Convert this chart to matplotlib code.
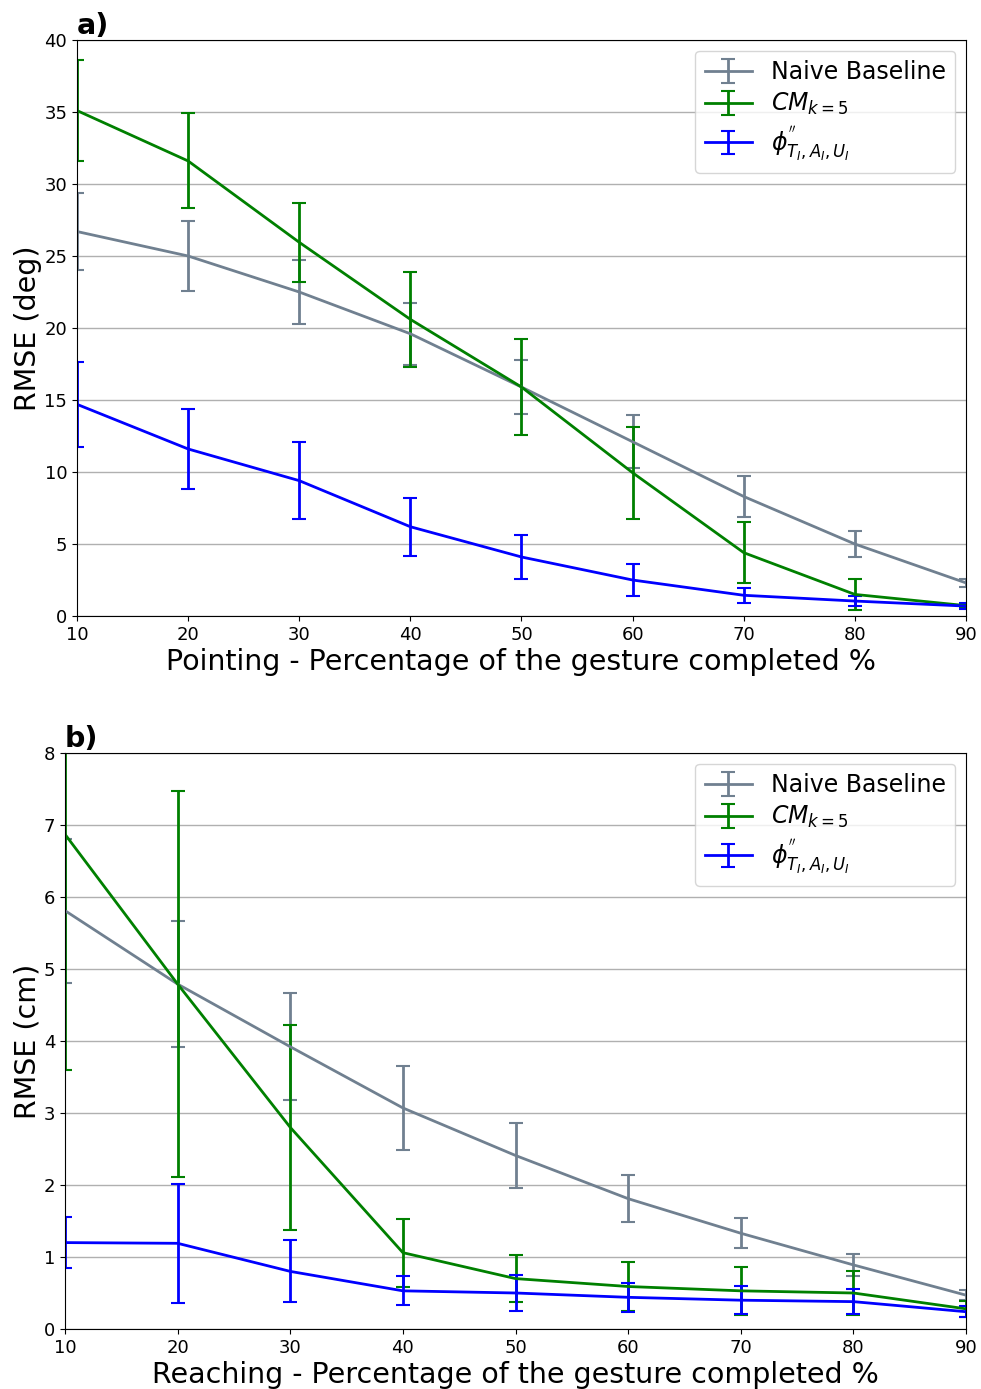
import numpy as np
import matplotlib
matplotlib.use("Agg")
import matplotlib.pyplot as plt

pct = [10, 20, 30, 40, 50, 60, 70, 80, 90]

# pointing (deg)
point_naive = [26.7, 25.0, 22.5, 19.6, 15.9, 12.1, 8.3, 5.0, 2.3]
point_naive_err = [2.7, 2.45, 2.25, 2.15, 1.9, 1.85, 1.45, 0.87, 0.26]
point_cm = [35.1, 31.6, 25.95, 20.6, 15.9, 9.95, 4.4, 1.5, 0.72]
point_cm_err = [3.5, 3.3, 2.75, 3.3, 3.35, 3.2, 2.1, 1.08, 0.1]
point_phi = [14.7, 11.6, 9.4, 6.2, 4.1, 2.5, 1.44, 1.04, 0.69]
point_phi_err = [2.95, 2.8, 2.65, 2.0, 1.55, 1.08, 0.54, 0.33, 0.2]

# reaching (cm)
reach_naive = [5.81, 4.79, 3.92, 3.07, 2.41, 1.81, 1.33, 0.89, 0.47]
reach_naive_err = [1.0, 0.875, 0.74, 0.58, 0.45, 0.33, 0.21, 0.15, 0.07]
reach_cm = [6.87, 4.79, 2.8, 1.06, 0.70, 0.59, 0.53, 0.50, 0.28]
reach_cm_err = [3.27, 2.68, 1.42, 0.47, 0.33, 0.345, 0.33, 0.3, 0.11]
reach_phi = [1.2, 1.19, 0.80, 0.53, 0.50, 0.44, 0.40, 0.38, 0.24]
reach_phi_err = [0.35, 0.83, 0.43, 0.2, 0.245, 0.205, 0.195, 0.17, 0.08]

labels = ["Naive Baseline", r"$CM_{k=5}$", r"$\phi^{''}_{T_I,A_I,U_I}$"]
colors = ["slategray", "green", "blue"]

fig = plt.figure(figsize=(9.81, 13.89), dpi=100)
ax1 = fig.add_axes([0.0785, 0.5565, 0.9062, 0.4147])
ax2 = fig.add_axes([0.0663, 0.0432, 0.9184, 0.4147])


def draw(ax, series, ylim, xlabel, ylabel, tag):
    for (y, e), lab, c in zip(series, labels, colors):
        ax.errorbar(pct, y, yerr=e, label=lab, color=c, lw=2,
                    elinewidth=2, capsize=5, capthick=1.5)
    ax.set_xlim(10, 90)
    ax.set_ylim(*ylim)
    ax.set_xticks(pct)
    ax.yaxis.grid(True, color="#b0b0b0", lw=1)
    ax.set_axisbelow(True)
    ax.tick_params(labelsize=13)
    ax.set_xlabel(xlabel, fontsize=20.5, labelpad=3)
    ax.set_ylabel(ylabel, fontsize=20.5, labelpad=2)
    ax.legend(loc="upper right", fontsize=17, borderaxespad=0.45,
              labelspacing=0.3)
    ax.text(0.0, 1.01, tag, transform=ax.transAxes, fontsize=20.5,
            fontweight="bold", va="baseline", ha="left")


draw(ax1, [(point_naive, point_naive_err), (point_cm, point_cm_err),
           (point_phi, point_phi_err)], (0, 40),
     "Pointing - Percentage of the gesture completed %", "RMSE (deg)", "a)")
draw(ax2, [(reach_naive, reach_naive_err), (reach_cm, reach_cm_err),
           (reach_phi, reach_phi_err)], (0, 8),
     "Reaching - Percentage of the gesture completed %", "RMSE (cm)", "b)")

fig.savefig("out.png", dpi=100)
